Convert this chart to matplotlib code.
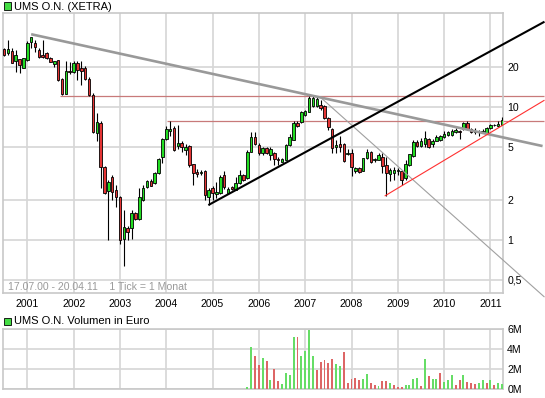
import matplotlib
matplotlib.use("Agg")
import matplotlib.pyplot as plt
import numpy as np
import pandas as pd

# ---------------- data ----------------
months = pd.period_range("2000-07", "2011-04", freq="M")

opens = [27.0, 25.2, 26.4, 22.2, 22.8, 19.7, 22.5, 30.6, 30.0, 26.8,
         24.6, 25.5, 23.3, 20.9, 22.5, 16.2, 12.5, 18.7, 18.1, 21.4,
         19.5, 19.5, 16.3, 12.3, 6.3, 7.6, 3.5, 2.34, 2.94, 2.37,
         2.09, 1.01, 1.22, 1.22, 1.58, 1.43, 1.99, 2.47, 2.76, 2.68,
         3.16, 4.2, 5.7, 6.6, 6.9, 5.1, 5.3, 4.75, 5.1, 3.7,
         3.24, 3.18, 3.3, 2.1, 2.46, 2.22, 2.25, 3.07, 2.25, 2.49,
         2.37, 2.67, 3.07, 2.9, 4.6, 5.9, 5.15, 4.45, 4.9, 4.34,
         4.45, 4.02, 3.86, 4.0, 5.16, 5.65, 7.6, 7.7, 8.6, 9.2,
         10.1, 10.1, 10.3, 10.1, 8.2, 6.8, 4.95, 5.25, 5.25, 4.43,
         4.45, 3.3, 3.45, 3.3, 4.1, 4.6, 3.98, 4.0, 4.2, 3.65,
         3.1, 3.18, 3.3, 3.28, 2.92, 3.65, 4.25, 5.4, 5.05, 5.2,
         5.75, 5.2, 5.55, 5.6, 5.9, 6.1, 6.1, 6.5, 6.5, 6.8,
         7.6, 6.8, 6.5, 6.4, 6.45, 6.3, 6.9, 7.25, 7.1, 7.3]
highs = [27.5, 31.8, 27.5, 26.8, 23.0, 23.3, 31.0, 33.6, 32.0, 27.6,
         32.0, 25.9, 23.5, 22.0, 22.6, 16.5, 22.0, 21.8, 22.0, 22.0,
         22.0, 20.2, 16.8, 12.6, 9.0, 7.8, 3.6, 2.82, 3.07, 2.58,
         2.12, 1.68, 1.27, 1.68, 1.62, 2.45, 2.58, 2.82, 2.86, 3.22,
         4.1, 5.8, 7.1, 7.76, 7.1, 7.3, 5.5, 5.2, 5.15, 3.72,
         3.4, 3.35, 3.32, 2.46, 2.52, 2.7, 3.07, 3.3, 2.5, 2.52,
         2.98, 3.35, 3.12, 4.73, 6.5, 6.5, 5.3, 5.0, 5.0, 4.95,
         4.55, 4.2, 4.1, 5.2, 6.2, 7.75, 7.8, 9.3, 9.5, 12.1,
         12.1, 11.9, 11.2, 10.3, 8.4, 6.9, 5.63, 6.0, 5.35, 4.8,
         4.8, 3.5, 3.5, 4.12, 4.8, 4.65, 4.1, 4.45, 4.45, 4.2,
         3.45, 3.5, 3.45, 3.35, 3.98, 4.4, 5.63, 5.6, 5.8, 6.6,
         5.85, 5.75, 6.1, 6.15, 6.6, 6.6, 6.75, 6.9, 6.7, 7.7,
         7.75, 6.9, 6.9, 6.65, 6.8, 7.0, 7.4, 7.4, 7.8, 8.3]
lows = [24.2, 24.6, 21.3, 18.2, 17.9, 19.5, 22.2, 27.5, 25.8, 23.3,
        23.3, 23.0, 21.6, 20.0, 15.5, 12.3, 12.4, 17.6, 17.8, 15.9,
        14.6, 15.9, 12.1, 6.3, 5.5, 2.43, 2.22, 1.0, 1.99, 1.76,
        0.92, 0.63, 1.0, 1.01, 1.41, 1.41, 1.96, 2.45, 2.52, 2.64,
        3.12, 3.8, 5.6, 6.0, 4.65, 4.8, 4.6, 4.34, 3.55, 2.58,
        2.97, 3.07, 2.0, 1.83, 2.0, 2.05, 2.22, 2.4, 2.2, 2.37,
        2.36, 2.62, 2.78, 2.86, 4.55, 5.15, 4.34, 4.34, 4.4, 4.0,
        3.65, 3.65, 3.85, 3.98, 5.1, 5.6, 7.0, 7.6, 8.5, 9.1,
        10.0, 10.0, 9.47, 8.1, 6.7, 4.5, 4.5, 4.6, 3.85, 4.3,
        3.0, 3.15, 3.2, 3.28, 4.05, 3.8, 3.86, 3.98, 3.2, 2.14,
        2.75, 2.82, 3.07, 2.58, 2.82, 3.6, 4.2, 5.0, 5.0, 4.95,
        4.9, 5.0, 5.5, 5.55, 5.85, 6.05, 6.05, 6.3, 5.7, 6.7,
        6.7, 6.3, 6.2, 6.05, 6.3, 6.25, 6.8, 7.1, 7.05, 7.25]
closes = [24.6, 27.1, 21.5, 24.6, 20.6, 23.1, 30.0, 33.3, 28.0, 23.8,
          23.8, 23.3, 21.8, 21.9, 15.9, 12.5, 18.5, 18.1, 21.4, 18.9,
          18.6, 16.3, 12.3, 6.4, 7.7, 3.5, 2.25, 2.71, 2.30, 2.09,
          1.0, 1.25, 1.15, 1.58, 1.43, 2.08, 2.45, 2.74, 2.55, 3.16,
          4.05, 5.7, 6.8, 6.85, 4.7, 5.35, 5.0, 4.98, 3.65, 3.16,
          3.12, 3.2, 2.17, 2.35, 2.25, 2.3, 2.97, 2.49, 2.42, 2.42,
          2.68, 3.07, 2.82, 4.6, 5.9, 5.2, 4.5, 4.9, 4.47, 4.85,
          4.02, 3.98, 4.05, 5.16, 5.93, 7.6, 7.1, 9.2, 9.3, 11.7,
          11.6, 11.5, 9.7, 8.2, 7.0, 4.9, 5.16, 5.0, 3.9, 4.45,
          3.55, 3.45, 3.25, 4.1, 4.6, 3.86, 4.0, 4.34, 3.6, 3.2,
          3.35, 3.33, 3.33, 2.82, 3.7, 4.4, 5.4, 5.1, 5.5, 5.8,
          5.0, 5.55, 5.9, 6.05, 6.2, 6.45, 6.6, 6.7, 6.48, 7.6,
          6.8, 6.45, 6.55, 6.45, 6.5, 6.9, 7.3, 7.3, 7.4, 8.0]

vol_start = 63  # first month with turnover data
volumes_m = [0.2, 4.23, 3.33, 2.43, 3.13, 2.83, 0.93, 2.03, 0.87, 0.53,
             1.67, 1.43, 5.23, 5.23, 3.33, 3.83, 5.93, 3.33, 1.93, 2.77,
             2.93, 2.67, 3.03, 2.53, 2.33, 3.77, 0.67, 1.03, 1.13, 0.93,
             1.0, 1.53, 0.67, 0.43, 0.33, 0.87, 0.87, 0.67, 0.43, 0.27,
             0.27, 0.43, 0.43, 1.03, 1.17, 0.33, 3.03, 1.33, 1.03, 1.03,
             1.67, 0.77, 0.93, 1.43, 0.43, 0.93, 1.43, 0.73, 0.67, 0.53,
             0.67, 0.93, 0.67, 0.93, 0.43, 0.67, 0.53]
volume_up = "ggrrgrgrrggggrggggrrrrrggrrrrrggrrgrrgrrrggggrgrggrgggrrgrrrggrgrgg"

year_labels = ["2001", "2002", "2003", "2004", "2005", "2006",
               "2007", "2008", "2009", "2010", "2011"]
price_ticks = [0.5, 1, 2, 5, 10, 20]
price_tick_labels = ["0,5", "1", "2", "5", "10", "20"]
vol_ticks = [0, 2e6, 4e6, 6e6]
vol_tick_labels = ["0M", "2M", "4M", "6M"]

# trend lines: (month index, price) endpoints
trend_gray = ([7, 139.5], [35.1, 5.06])
trend_black = ([52.9, 140], [1.82, 43.6])
trend_red = ([98.6, 140], [2.13, 11.2])
trend_thin = ([82.2, 140], [11.6, 0.37])
hline_upper = ([14.5, 140], [12.1, 12.1])
hline_lower = ([42.1, 140], [7.76, 7.76])

# ---------------- figure ----------------
W, H = 545, 398
fig = plt.figure(figsize=(W / 100, H / 100), dpi=100)
plt.rcParams['font.family'] = ['Liberation Sans', 'DejaVu Sans']

def px_axes(x0, y0, x1, y1):
    return fig.add_axes([x0 / W, 1 - y1 / H, (x1 - x0) / W, (y1 - y0) / H])

ax = px_axes(3, 13, 503, 293)
axv = px_axes(3, 329.3, 503, 389.3)

GRID = "#d6d6d6"
SPINE = "#c8c8c8"
UP = "#22dd22"
DOWN = "#e43434"
VUP = "#66dd66"
VDOWN = "#dd6666"

x = np.arange(len(months))
o = np.array(opens); h = np.array(highs); l = np.array(lows); c = np.array(closes)
up = c >= o

ax.set_yscale("log")
ax.set_xlim(-0.3, 129.25)
ax.set_ylim(0.397, 50.7)

year_pos = [i for i, m in enumerate(months) if m.month == 1]
for a in (ax, axv):
    a.set_xticks(year_pos)
    a.grid(True, color=GRID, lw=1.2, zorder=0)
    a.set_axisbelow(True)
    for s in a.spines.values():
        s.set_color(SPINE)
        s.set_linewidth(1.2)
    a.tick_params(length=0, labelsize=7.6, colors="black")
    a.yaxis.tick_right()

ax.set_xticklabels(year_labels)
ax.tick_params(axis="x", pad=4.5)
ax.set_yticks(price_ticks)
ax.set_yticklabels(price_tick_labels)
ax.yaxis.set_minor_locator(matplotlib.ticker.NullLocator())
ax.tick_params(axis="y", pad=3)

# candles
ax.vlines(x, l, h, color="black", lw=0.8, zorder=3)
body_lo = np.minimum(o, c)
body_hi = np.maximum(o, c)
body_hi = np.where(body_hi / body_lo < 1.01, body_lo * 1.01, body_hi)
ax.bar(x, body_hi - body_lo, bottom=body_lo, width=0.66,
       color=np.where(up, UP, DOWN), edgecolor="black", linewidth=0.6, zorder=4)

# trend lines (extend beyond the plot frame to the figure edge)
def tline(pts, **kw):
    ln, = ax.plot(pts[0], pts[1], clip_on=False, solid_capstyle="butt", **kw)
    return ln

tline(hline_upper, color="#c87a7a", lw=0.9, zorder=2)
tline(hline_lower, color="#c87a7a", lw=0.9, zorder=2)
tline(trend_thin, color="#a0a0a0", lw=0.8, zorder=5)
tline(trend_gray, color="#999999", lw=1.9, zorder=5)
tline(trend_red, color="#ff3030", lw=0.8, zorder=5)
tline(trend_black, color="black", lw=1.5, zorder=6)

# volume
vx = x[vol_start:vol_start + len(volumes_m)]
vcol = [VUP if d == "g" else VDOWN for d in volume_up]
axv.bar(vx, np.array(volumes_m) * 1e6, width=0.5, color=vcol, zorder=3)
axv.set_xlim(-0.3, 129.25)
axv.set_ylim(0, 6e6)
axv.set_xticklabels([])
axv.set_yticks(vol_ticks)
axv.set_yticklabels(vol_tick_labels)
axv.tick_params(axis="y", pad=3)

# titles
def legend_box(xp, yp):
    fig.patches.append(plt.Rectangle((xp / W, 1 - (yp + 7) / H), 7 / W, 7 / H,
                                     transform=fig.transFigure, facecolor="#44dd44",
                                     edgecolor="black", lw=0.6))

legend_box(4, 2.5)
fig.text(14 / W, 1 - 6.5 / H, "UMS O.N. (XETRA)", fontsize=8, va="center", ha="left")
legend_box(4, 318)
fig.text(14 / W, 1 - 321.5 / H, "UMS O.N. Volumen in Euro", fontsize=8, va="center", ha="left")
fig.text(8 / W, 1 - 287 / H, "17.07.00 - 20.04.11    1 Tick = 1 Monat",
         fontsize=7.6, color="#9a9a9a", va="center", ha="left")

fig.savefig("out.png", dpi=100)
